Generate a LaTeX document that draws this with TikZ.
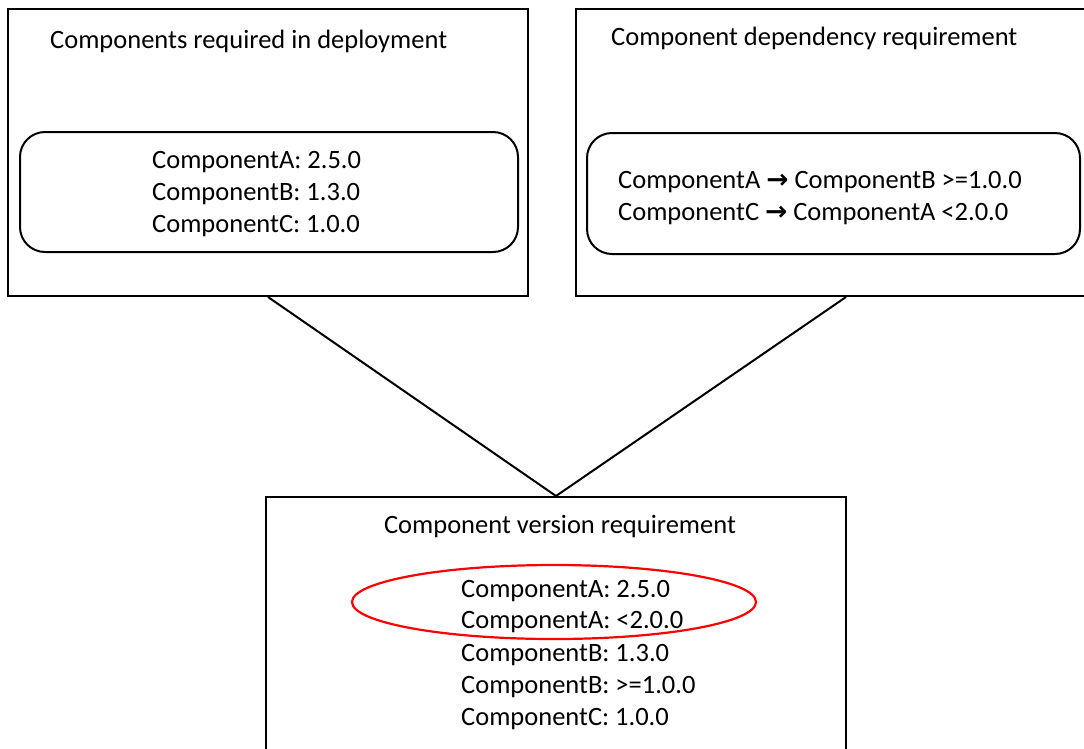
\documentclass[tikz,border=0pt]{standalone}
\usepackage{fontspec}
\setmainfont{Carlito}
\newfontfamily\arrfont{DejaVu Sans}
\begin{document}
\begin{tikzpicture}[x=1pt,y=-1pt,
  outerbox/.style={draw, line width=2pt, inner sep=0pt},
  innerbox/.style={draw, line width=2pt, rounded corners=25pt, inner sep=0pt},
  txt/.style={anchor=base west, inner sep=0pt, font=\fontsize{26.5}{32}\selectfont},
  conn/.style={line width=2pt},
  hilite/.style={draw=red, line width=2.2pt}]
\useasboundingbox (0,0) rectangle (1084,748);
\clip (0,0) rectangle (1084,748);
% outer boxes
\node[outerbox, minimum width=520pt, minimum height=287pt] (dep) at (268,152.5) {};
\node[outerbox, minimum width=540pt, minimum height=287pt] (dpr) at (846,152.5) {};
\node[outerbox, minimum width=580pt, minimum height=280pt] (ver) at (556,637) {};
% inner rounded boxes
\draw[innerbox] (20,132) rectangle (518,252);
\draw[innerbox] (587,133) rectangle (1080,254);
% connectors
\draw[conn] (dep.south) -- (ver.north);
\draw[conn] (dpr.south) -- (ver.north);
% titles
\node[txt] (t1) at (50,48) {Components required in deployment};
\node[txt] (t2) at (611,45) {Component dependency requirement};
\node[txt, anchor=base] (t3) at (560,533) {Component version requirement};
% left content
\node[txt] (a1) at (152,168) {ComponentA: 2.5.0};
\node[txt] (a2) at (152,200) {ComponentB: 1.3.0};
\node[txt] (a3) at (152,232) {ComponentC: 1.0.0};
% right content
\node[txt] (b1) at (618,188) {ComponentA {\arrfont\bfseries →} ComponentB >=1.0.0};
\node[txt] (b2) at (618,220) {ComponentC {\arrfont\bfseries →} ComponentA <2.0.0};
% bottom content
\node[txt] (c1) at (461,597) {ComponentA: 2.5.0};
\node[txt] (c2) at (461,628) {ComponentA: <2.0.0};
\node[txt] (c3) at (461,661) {ComponentB: 1.3.0};
\node[txt] (c4) at (461,693) {ComponentB: >=1.0.0};
\node[txt] (c5) at (461,725) {ComponentC: 1.0.0};
% red ellipse
\draw[hilite] (554,602) ellipse [x radius=202pt, y radius=37pt];
\end{tikzpicture}
\end{document}
